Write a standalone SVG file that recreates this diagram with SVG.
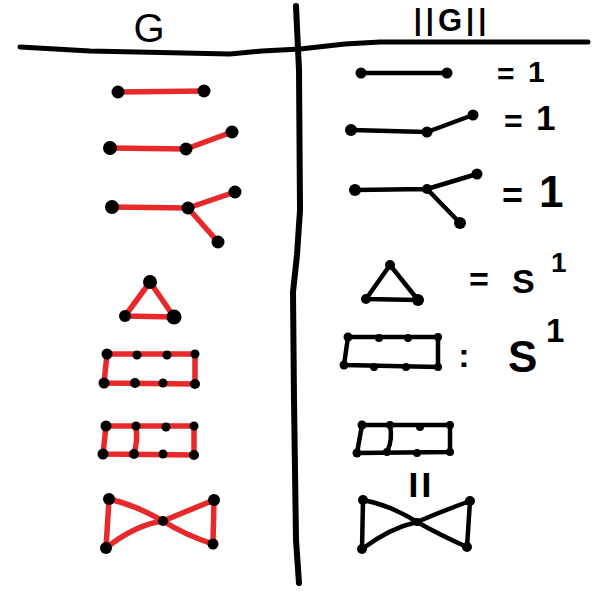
<svg xmlns="http://www.w3.org/2000/svg" width="600" height="600" viewBox="0 0 600 600">
<style>
.red{stroke:#e8292b;stroke-width:5.5;fill:none;stroke-linecap:round;stroke-linejoin:round}
.blk{stroke:#000;stroke-width:4.5;fill:none;stroke-linecap:round;stroke-linejoin:round}
.rule{stroke:#000;stroke-width:5;fill:none;stroke-linecap:round;stroke-linejoin:round}
.dot{fill:#000}
.t{font-family:"Liberation Sans",Arial,sans-serif;font-weight:bold;fill:#000}
</style>
<rect width="600" height="600" fill="#fff"/>
<g id="frame">
<path class="rule" d="M20,47 L90,51 L230,54 L262,51 L300,49 L345,44 L380,42 L588,42"/>
<path class="rule" style="stroke-width:6" d="M296,6 L299,70 L300,210 L297,255 L293,292 L294,400 L296,540 L299,583"/>
<text class="t" style="font-weight:normal" x="149" y="42" font-size="40" text-anchor="middle">G</text>
<text class="t" x="452" y="31" font-size="29" text-anchor="middle" letter-spacing="4"><tspan dy="-1">||</tspan><tspan dy="1" font-size="31">G</tspan><tspan dy="-1">||</tspan></text>
</g>
<g id="connectors">
<path class="red" d="M118,92 L205,91"/>
<path class="red" d="M110,148 L186,149 L232,132"/>
<path class="red" d="M112,207 L188,208 L235,192 M188,208 L218,242"/>
<path class="red" d="M150,282 L125,316 L174,317 Z"/>
<path class="red" d="M107,354 L195,354 L195,384 L104,383 Z"/>
<path class="red" d="M106,426 L194,426 L194,455 L103,454 Z M136,426 Q138,440 134,454"/>
<path class="red" d="M109,499 L106,548 Q135,525 163,521 Q190,510 214,500 L213,544 Q185,535 163,521 Q135,505 109,499"/>
<path class="blk" d="M361,73 L447,73"/>
<path class="blk" d="M351,130 L427,132 L473,115"/>
<path class="blk" d="M355,190 L427,189 L477,174 M427,189 L460,223"/>
<path class="blk" d="M390,265 L366,299 L418,300 Z"/>
<path class="blk" d="M348,337 L438,337 L438,367 L344,365 Z"/>
<path class="blk" d="M362,425 L450,425 L450,452 L357,453 Z M390,425 Q393,440 387,452"/>
<path class="blk" d="M363,500 L362,549 Q390,528 417,522 Q445,510 470,501 L467,547 Q440,535 417,522 Q390,505 363,500"/>
</g>
<g id="left-graphs">
<g id="L1"><circle class="dot" cx="118" cy="92" r="6.5"/><circle class="dot" cx="204" cy="91" r="6.5"/></g>
<g id="L2"><circle class="dot" cx="110" cy="148" r="7"/><circle class="dot" cx="186" cy="149" r="6.5"/><circle class="dot" cx="232" cy="132" r="6.5"/></g>
<g id="L3"><circle class="dot" cx="112" cy="207" r="7"/><circle class="dot" cx="188" cy="208" r="6.5"/><circle class="dot" cx="235" cy="192" r="6.5"/><circle class="dot" cx="218" cy="242" r="6.5"/></g>
<g id="L4"><circle class="dot" cx="150" cy="282" r="7"/><circle class="dot" cx="125" cy="316" r="6"/><circle class="dot" cx="174" cy="317" r="7.5"/></g>
<g id="L5"><circle class="dot" cx="107" cy="354" r="5.5"/><circle class="dot" cx="137" cy="355" r="4.5"/><circle class="dot" cx="167" cy="355" r="4.5"/><circle class="dot" cx="195" cy="354" r="4.5"/><circle class="dot" cx="104" cy="383" r="5.5"/><circle class="dot" cx="135" cy="383" r="5"/><circle class="dot" cx="163" cy="383" r="4.5"/><circle class="dot" cx="195" cy="384" r="5"/></g>
<g id="L6"><circle class="dot" cx="106" cy="426" r="5.5"/><circle class="dot" cx="136" cy="426" r="4.5"/><circle class="dot" cx="166" cy="427" r="4.5"/><circle class="dot" cx="194" cy="426" r="4.5"/><circle class="dot" cx="103" cy="454" r="5.5"/><circle class="dot" cx="134" cy="454" r="5"/><circle class="dot" cx="163" cy="454" r="4.5"/><circle class="dot" cx="194" cy="455" r="5"/></g>
<g id="L7"><circle class="dot" cx="109" cy="499" r="6"/><circle class="dot" cx="106" cy="548" r="6"/><circle class="dot" cx="163" cy="521" r="5"/><circle class="dot" cx="214" cy="500" r="6"/><circle class="dot" cx="213" cy="544" r="5.5"/></g>
</g>
<g id="right-graphs">
<g id="R1"><circle class="dot" cx="361" cy="73" r="5.5"/><circle class="dot" cx="447" cy="73" r="5.5"/><text class="t" x="497" y="84" font-size="30">=</text><text class="t" x="528" y="82" font-size="30">1</text></g>
<g id="R2"><circle class="dot" cx="351" cy="130" r="6"/><circle class="dot" cx="427" cy="132" r="5.5"/><circle class="dot" cx="473" cy="115" r="5.5"/><text class="t" x="504" y="132" font-size="32">=</text><text class="t" x="536" y="130" font-size="35">1</text></g>
<g id="R3"><circle class="dot" cx="355" cy="190" r="6"/><circle class="dot" cx="427" cy="189" r="5"/><circle class="dot" cx="477" cy="174" r="5.5"/><circle class="dot" cx="460" cy="223" r="6"/><text class="t" x="502" y="208" font-size="36">=</text><text class="t" x="539" y="207" font-size="44">1</text></g>
<g id="R4"><circle class="dot" cx="390" cy="265" r="5"/><circle class="dot" cx="366" cy="299" r="5"/><circle class="dot" cx="418" cy="300" r="6"/><text class="t" x="469" y="291" font-size="34">=</text><text class="t" x="512" y="293" font-size="34" font-weight="normal">S</text><text class="t" x="551" y="272" font-size="28">1</text></g>
<g id="R5"><circle class="dot" cx="348" cy="337" r="4.5"/><circle class="dot" cx="379" cy="338" r="4"/><circle class="dot" cx="408" cy="338" r="4"/><circle class="dot" cx="438" cy="337" r="4"/><circle class="dot" cx="344" cy="365" r="4.5"/><circle class="dot" cx="374" cy="367" r="4"/><circle class="dot" cx="406" cy="367" r="4"/><circle class="dot" cx="438" cy="367" r="4"/><text class="t" x="464" y="367" font-size="34" text-anchor="middle">:</text><text class="t" x="508" y="372" font-size="44" font-weight="normal">S</text><text class="t" x="546" y="342" font-size="33">1</text></g>
<g id="R6"><circle class="dot" cx="362" cy="425" r="4.5"/><circle class="dot" cx="390" cy="425" r="4"/><circle class="dot" cx="420" cy="427" r="4"/><circle class="dot" cx="450" cy="425" r="4"/><circle class="dot" cx="357" cy="453" r="4.5"/><circle class="dot" cx="387" cy="452" r="4"/><circle class="dot" cx="417" cy="453" r="4"/><circle class="dot" cx="450" cy="452" r="4"/></g>
<g id="R7"><circle class="dot" cx="363" cy="500" r="5"/><circle class="dot" cx="362" cy="549" r="5"/><circle class="dot" cx="417" cy="522" r="4"/><circle class="dot" cx="470" cy="501" r="5"/><circle class="dot" cx="467" cy="547" r="5"/><text class="t" x="0" y="0" font-size="48" text-anchor="middle" transform="translate(420,485) rotate(90) translate(0,17)">=</text></g>
</g>
</svg>
